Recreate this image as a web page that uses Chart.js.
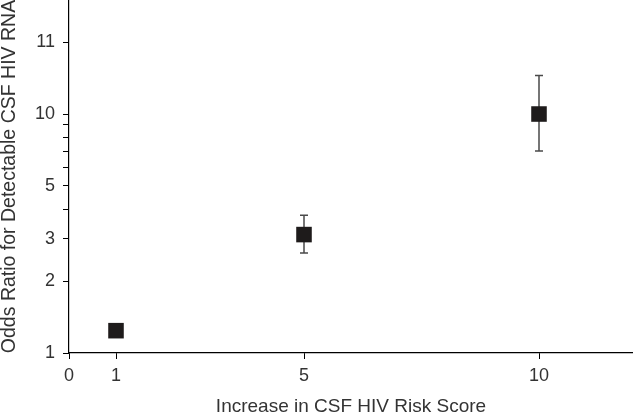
<!DOCTYPE html>
<html>
<head>
<meta charset="utf-8">
<script src="https://cdn.jsdelivr.net/npm/chart.js@4/dist/chart.umd.min.js"></script>
<style>
  html, body { margin: 0; padding: 0; background: #fff; }
  #wrap { width: 633px; height: 420px; }
</style>
</head>
<body>
<div id="wrap"><canvas id="orChart"></canvas></div>
<script>
// risk score increase vs odds ratio
const scoreIncrease = [1, 5, 10];
const oddsRatio = [1.24, 3.13, 10.0];
const ciLow = [1.24, 2.62, 7.0];
const ciHigh = [1.24, 3.77, 14.5];

const xTickValues = [0, 1, 5, 10];
const yTickValues = [1, 2, 3, 4, 5, 6, 7, 8, 9, 10, 20];
const yTickLabels = ['1', '2', '3', '', '5', '', '', '', '', '10', '11'];

const FONT = '"Liberation Sans", Arial, Helvetica, sans-serif';

// draws the whiskers using the chart's own scales
const errorBars = {
    id: 'errorBars',
    beforeDatasetsDraw(chart) {
        const { ctx, scales: { x, y } } = chart;
        ctx.save();
        ctx.strokeStyle = '#4a4a4a';
        ctx.lineWidth = 1.5;
        scoreIncrease.forEach((v, i) => {
            if (ciLow[i] === ciHigh[i]) return;
            const px = x.getPixelForValue(v);
            const top = y.getPixelForValue(ciHigh[i]);
            const bot = y.getPixelForValue(ciLow[i]);
            ctx.beginPath();
            ctx.moveTo(px, top); ctx.lineTo(px, bot);
            ctx.moveTo(px - 4, top); ctx.lineTo(px + 4, top);
            ctx.moveTo(px - 4, bot); ctx.lineTo(px + 4, bot);
            ctx.stroke();
        });
        ctx.restore();
    }
};

const ctx = document.getElementById('orChart').getContext('2d');
new Chart(ctx, {
    type: 'scatter',
    data: {
        datasets: [{
            data: scoreIncrease.map((v, i) => ({ x: v, y: oddsRatio[i] })),
            pointStyle: 'rect',
            pointRadius: 11,
            pointHoverRadius: 11,
            backgroundColor: '#1e1b1b',
            borderColor: '#1e1b1b',
            borderWidth: 0
        }]
    },
    options: {
        responsive: true,
        maintainAspectRatio: false,
        animation: false,
        layout: { padding: 0, autoPadding: false },
        plugins: {
            legend: { display: false },
            tooltip: { enabled: false }
        },
        scales: {
            x: {
                type: 'linear',
                min: 0,
                max: 12,
                afterBuildTicks: (axis) => { axis.ticks = xTickValues.map(v => ({ value: v })); },
                afterFit: (axis) => {
                    axis.height = 67;
                    axis.paddingLeft = 0;
                    axis.paddingRight = 0;
                },
                grid: { drawOnChartArea: false, drawTicks: true, tickLength: 6, color: '#000', lineWidth: 1 },
                border: { color: '#000', width: 1.2 },
                ticks: { autoSkip: false, maxRotation: 0, color: '#333', padding: 6, font: { family: FONT, size: 18 } },
                title: {
                    display: true,
                    text: 'Increase in CSF HIV Risk Score',
                    color: '#333',
                    padding: { top: 0, bottom: 4 },
                    font: { family: FONT, size: 19, lineHeight: 1 }
                }
            },
            y: {
                type: 'logarithmic',
                min: 1,
                max: 30,
                afterBuildTicks: (axis) => { axis.ticks = yTickValues.map(v => ({ value: v })); },
                afterFit: (axis) => {
                    axis.width = 69;
                    axis.paddingTop = 0;
                    axis.paddingBottom = 0;
                },
                grid: { drawOnChartArea: false, drawTicks: true, tickLength: 6, color: '#000', lineWidth: 1 },
                border: { color: '#000', width: 1.2 },
                ticks: {
                    autoSkip: false,
                    color: '#333',
                    padding: 8,
                    font: { family: FONT, size: 18 },
                    callback: (value, index) => yTickLabels[index]
                },
                title: {
                    display: true,
                    text: 'Odds Ratio for Detectable CSF HIV RNA',
                    color: '#333',
                    padding: { top: 0, bottom: 0 },
                    font: { family: FONT, size: 19.5, lineHeight: 1 }
                }
            }
        }
    },
    plugins: [errorBars]
});
</script>
</body>
</html>
